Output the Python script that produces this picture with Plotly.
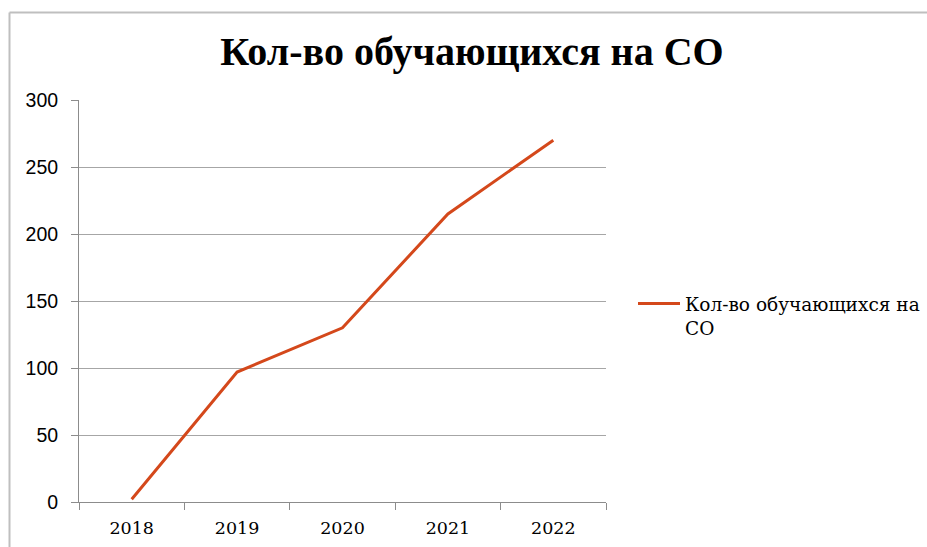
import plotly.graph_objects as go

years = ["2018", "2019", "2020", "2021", "2022"]
students = [2, 97, 130, 215, 270]
series_name = "Кол-во обучающихся на<br>СО"
title_text = "Кол-во обучающихся на СО"

W, H = 927, 547
L, R, T, B = 79, 321, 100, 45
pw, ph = W - L - R, H - T - B

def px_x(p):
    return (p - L) / pw

def px_y(p):
    return (H - B - p) / ph

fig = go.Figure()
fig.add_trace(go.Scatter(
    x=years, y=students, mode="lines", name=series_name,
    line=dict(color="#D4481B", width=3),
))

fig.update_layout(
    width=W, height=H,
    margin=dict(l=L, r=R, t=T, b=B, autoexpand=False),
    paper_bgcolor="white", plot_bgcolor="white",
    showlegend=True,
    title=dict(text=f"<b>{title_text}</b>", x=472 / W, xanchor="center",
               y=1 - 51 / H, yanchor="middle",
               font=dict(family="Liberation Serif", size=40, color="black")),
    legend=dict(x=px_x(633), y=px_y(316), xanchor="left", yanchor="middle",
                valign="top", font=dict(family="DejaVu Serif", size=18.5, color="black"),
                itemwidth=42, bgcolor="rgba(0,0,0,0)"),
    xaxis=dict(type="category", tickson="boundaries", range=[-0.5, 4.5],
               showgrid=False, showline=True, linecolor="#8c8c8c", linewidth=1,
               ticks="outside", ticklen=7, tickcolor="#8c8c8c", ticklabelstandoff=10,
               automargin=False,
               tickfont=dict(family="DejaVu Serif", size=17.5, color="black")),
    yaxis=dict(range=[0, 300], dtick=50, showgrid=True, gridcolor="#a6a6a6",
               showline=True, linecolor="#8c8c8c", linewidth=1,
               ticks="outside", ticklen=7, tickcolor="#8c8c8c", zeroline=False,
               ticklabelstandoff=9, automargin=False,
               tickfont=dict(family="Liberation Sans", size=19.5, color="black")),
)

fx, fy = px_x(9.5), px_y(12.5)
fig.add_shape(type="line", xref="paper", yref="paper", x0=fx, x1=fx, y0=fy, y1=px_y(560),
              line=dict(color="#bfbfbf", width=2))
fig.add_shape(type="line", xref="paper", yref="paper", x0=fx, x1=px_x(940), y0=fy, y1=fy,
              line=dict(color="#bfbfbf", width=2))

fig.write_html("out.html", config={"displayModeBar": False},
               post_script="document.body.style.margin='0px';")
